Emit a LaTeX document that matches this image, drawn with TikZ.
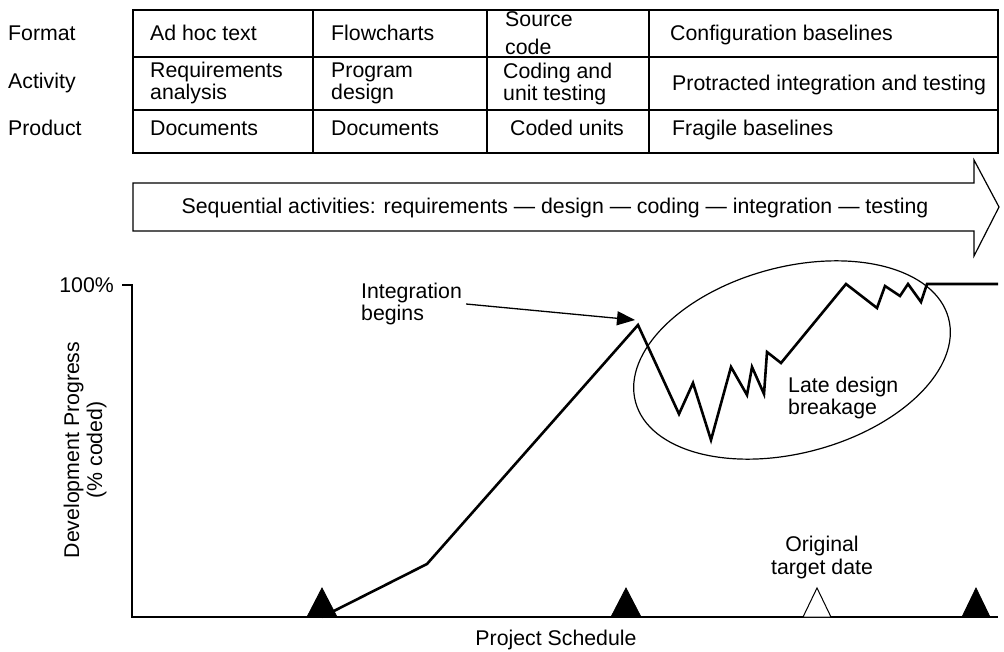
\documentclass[tikz,border=0pt]{standalone}
\usepackage{fontspec}
\setmainfont{Liberation Sans}
\usetikzlibrary{arrows.meta}
\begin{document}
\begin{tikzpicture}[x=1pt,y=-1pt,
  txt/.style={font=\fontsize{21.3}{22}\selectfont, inner sep=0pt, align=left, anchor=west},
  btxt/.style={font=\fontsize{21.3}{22}\selectfont, inner sep=0pt, anchor=base west},
  ctxt/.style={font=\fontsize{21.3}{23}\selectfont, inner sep=0pt, align=center},
  frame/.style={draw, line width=1.2pt},
  progress/.style={draw, line width=2.6pt, line join=miter},
  axis/.style={draw, line width=1.6pt},
  milestone/.style={fill=black, draw=black, line width=0.8pt},
  planned/.style={fill=white, draw=black, line width=1pt},
  pointer/.style={draw, line width=1.3pt, -{Triangle[length=18pt,width=14pt]}},
  ring/.style={draw, line width=1.2pt}]
\useasboundingbox (0,0) rectangle (1004,652);

% ---- table ----
\draw[frame] (133,10) rectangle (998,153);
\draw[frame] (133,57) -- (998,57);
\draw[frame] (133,110) -- (998,110);
\draw[frame] (313,10) -- (313,153);
\draw[frame] (487,10) -- (487,153);
\draw[frame] (649,10) -- (649,153);

\node[btxt] (lformat) at (8,40.5) {Format};
\node[btxt] (lactivity) at (8,88.5) {Activity};
\node[btxt] (lproduct) at (8,135.5) {Product};

\node[btxt] (f1) at (150,40.5) {Ad hoc text};
\node[btxt] (f2) at (331,40.5) {Flowcharts};
\node[txt] (f3) at (505,33) {Source\\[6pt]code};
\node[btxt] (f4) at (670,40.5) {Configuration baselines};

\node[txt] (a1) at (150,83) {Requirements\\analysis};
\node[txt] (a2) at (331,83) {Program\\design};
\node[txt] (a3) at (503,84) {Coding and\\unit testing};
\node[btxt] (a4) at (672,91) {Protracted integration and testing};

\node[btxt] (p1) at (150,135.5) {Documents};
\node[btxt] (p2) at (331,135.5) {Documents};
\node[btxt] (p3) at (510,135.5) {Coded units};
\node[btxt] (p4) at (672,135.5) {Fragile baselines};

% ---- big arrow ----
\draw[frame] (133,183) -- (974,183) -- (974,160) -- (999,207) -- (974,256) -- (974,231) -- (133,231) -- cycle;
\node[ctxt] (seq) at (555,208) {Sequential activities: requirements --- design --- coding --- integration --- testing};

% ---- chart axes ----
\draw[axis] (122,285) -- (132,285) -- (132,617) -- (998,617);
\node[txt, anchor=east] (hundred) at (114,285) {100\%};
\node[ctxt, rotate=90] (ylabel) at (85,450) {Development Progress\\(\% coded)};
\node[ctxt] (xlabel) at (556,640) {Project Schedule};

% ---- progress curve ----
\draw[progress] (322,617) -- (427,564) -- (638,325) -- (679,414) -- (693,383) -- (711,440)
  -- (731,367) -- (747,395) -- (752,367) -- (764,394) -- (767,352) -- (781,363)
  -- (846,284) -- (877,308) -- (885,286) -- (900,296) -- (908,284) -- (921,302)
  -- (927,284) -- (998,284);

% ---- milestones ----
\draw[milestone] (307,617) -- (322,588) -- (337,617) -- cycle;
\draw[milestone] (611,617) -- (626,588) -- (641,617) -- cycle;
\draw[milestone] (962,617) -- (976,588) -- (990,617) -- cycle;
\draw[planned] (803,617) -- (817,588) -- (831,617) -- cycle;
\node[ctxt] (target) at (822,557) {Original\\target date};

% ---- annotations ----
\draw[ring, rotate around={15:(792,360)}] (792,360) ellipse [x radius=162pt, y radius=93pt];
\node[txt] (late) at (788,398) {Late design\\breakage};

\node[txt] (ib) at (361,304) {Integration\\begins};
\coordinate (peak) at (635,320);
\draw[pointer] ([xshift=4pt]ib.east) -- (peak);
\end{tikzpicture}
\end{document}
